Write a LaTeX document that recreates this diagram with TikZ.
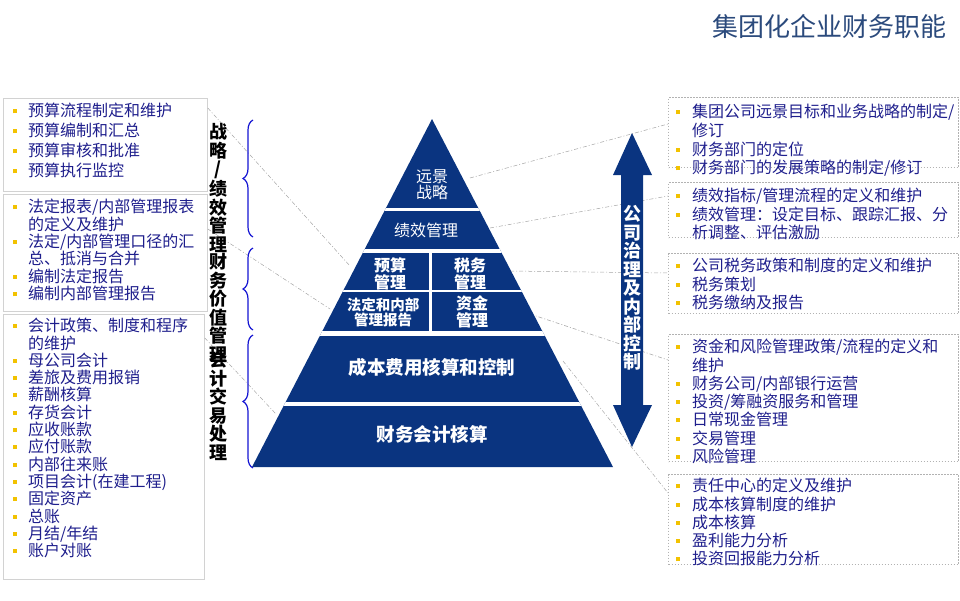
\documentclass[tikz,border=0pt]{standalone}
\usepackage{fontspec}
\setmainfont{Noto Sans CJK SC}
\usepackage{xcolor}
\usepackage{tikz}
\usetikzlibrary{calc,decorations.pathreplacing}

\definecolor{pyrblue}{HTML}{0A3480}
\definecolor{itemblue}{HTML}{1E1E8C}
\definecolor{bulletyellow}{HTML}{F2C200}
\definecolor{titleblue}{HTML}{2B4A7C}
\definecolor{braceblue}{HTML}{1414D2}

% gelbe Aufzählungspunkte
\newcommand{\lbul}{\llap{\textcolor{bulletyellow}{\rule[3.5pt]{4pt}{4pt}}\hspace{11pt}}}
\newcommand{\rbul}{\llap{\textcolor{bulletyellow}{\rule[3.5pt]{4pt}{4pt}}\hspace{12pt}}}

\tikzset{
  leftbox/.style={draw=gray!35, line width=0.8pt, anchor=north west, inner sep=0pt},
  rightbox/.style={draw=gray!60, line width=1.4pt, dash pattern=on 1.4pt off 1.6pt, anchor=north west, inner sep=0pt},
  itemlist/.style={anchor=north west, inner sep=0pt, align=left, text=itemblue},
  pyrtext/.style={text=white, align=center, inner sep=0pt},
  sidelabel/.style={align=center, inner sep=0pt, font=\fontsize{18}{18.5}\selectfont\bfseries},
  guide/.style={gray!70, line width=0.5pt, dash pattern=on 4pt off 2pt on 1pt off 2pt},
  sidebrace/.style={braceblue, line width=1.2pt, decorate, decoration={brace, amplitude=10pt}},
  gap/.style={white, line width=#1},
}

\begin{document}
\begin{tikzpicture}[x=1pt,y=-1pt]
  \useasboundingbox (0,0) rectangle (960,600);

  % Titel
  \node[text=titleblue, font=\fontsize{26}{26}\selectfont, anchor=east] (title) at (950,27) {集团化企业财务职能};

  % linke Kästen
  \node[leftbox, minimum width=204pt, minimum height=93pt] (lb1) at (3,98) {};
  \node[leftbox, minimum width=204pt, minimum height=117pt] (lb2) at (3,194) {};
  \node[leftbox, minimum width=201pt, minimum height=265pt] (lb3) at (3,314) {};

  \node[itemlist, font=\fontsize{16}{20}\selectfont] (lt1) at (28,103)
    {\lbul 预算流程制定和维护\\ \lbul 预算编制和汇总\\ \lbul 预算审核和批准\\ \lbul 预算执行监控};
  \node[itemlist, font=\fontsize{16}{17.4}\selectfont] (lt2) at (28,199)
    {\lbul 法定报表/内部管理报表\\ 的定义及维护\\ \lbul 法定/内部管理口径的汇\\ 总、抵消与合并\\
     \lbul 编制法定报告\\ \lbul 编制内部管理报告};
  \node[itemlist, font=\fontsize{16}{17.3}\selectfont] (lt3) at (28,318)
    {\lbul 会计政策、制度和程序\\ 的维护\\ \lbul 母公司会计\\ \lbul 差旅及费用报销\\ \lbul 薪酬核算\\
     \lbul 存货会计\\ \lbul 应收账款\\ \lbul 应付账款\\ \lbul 内部往来账\\ \lbul 项目会计(在建工程)\\
     \lbul 固定资产\\ \lbul 总账\\ \lbul 月结/年结\\ \lbul 账户对账};

  % rechte Kästen
  \node[rightbox, minimum width=290pt, minimum height=70pt] (rb1) at (668,97) {};
  \node[rightbox, minimum width=290pt, minimum height=55pt] (rb2) at (668,182) {};
  \node[rightbox, minimum width=290pt, minimum height=60pt] (rb3) at (668,253) {};
  \node[rightbox, minimum width=290pt, minimum height=127pt] (rb4) at (668,334) {};
  \node[rightbox, minimum width=290pt, minimum height=90pt] (rb5) at (668,474) {};

  \node[itemlist, font=\fontsize{16}{18.7}\selectfont] (rt1) at (692,104)
    {\rbul 集团公司远景目标和业务战略的制定/\\ 修订\\ \rbul 财务部门的定位\\ \rbul 财务部门的发展策略的制定/修订};
  \node[itemlist, font=\fontsize{16}{18.5}\selectfont] (rt2) at (692,188)
    {\rbul 绩效指标/管理流程的定义和维护\\ \rbul 绩效管理：设定目标、跟踪汇报、分\\ 析调整、评估激励};
  \node[itemlist, font=\fontsize{16}{18.5}\selectfont] (rt3) at (692,258)
    {\rbul 公司税务政策和制度的定义和维护\\ \rbul 税务策划\\ \rbul 税务缴纳及报告};
  \node[itemlist, font=\fontsize{16}{18.3}\selectfont] (rt4) at (692,339)
    {\rbul 资金和风险管理政策/流程的定义和\\ 维护\\ \rbul 财务公司/内部银行运营\\ \rbul 投资/筹融资服务和管理\\
     \rbul 日常现金管理\\ \rbul 交易管理\\ \rbul 风险管理};
  \node[itemlist, font=\fontsize{16}{18.25}\selectfont] (rt5) at (692,478)
    {\rbul 责任中心的定义及维护\\ \rbul 成本核算制度的维护\\ \rbul 成本核算\\ \rbul 盈利能力分析\\ \rbul 投资回报能力分析};

  % Anschlusspunkte an der Pyramide
  \coordinate (cBudget) at (350,266);
  \coordinate (cReport) at (330,309);
  \coordinate (cAcct)   at (276,414);
  \coordinate (cVision) at (470,178);
  \coordinate (cPerf)   at (490,228);
  \coordinate (cTax)    at (510,271);
  \coordinate (cFund)   at (530,314);
  \coordinate (cCost)   at (563,361);

  % Hilfslinien
  \draw[guide] (lb1.east |- 0,108) -- (cBudget);
  \draw[guide] (lb2.east |- 0,229) -- (cReport);
  \draw[guide] (lb3.east |- 0,338) -- (cAcct);
  \draw[guide] (cVision) -- (rb1.west |- 0,124);
  \draw[guide] (cPerf) -- (rb2.west |- 0,196);
  \draw[guide] (cTax) -- (rb3.west |- 0,273);
  \draw[guide] (cFund) -- (rb4.west |- 0,360);
  \draw[guide] (cCost) -- (rb5.west |- 0,493);

  % Pyramide
  \fill[pyrblue] (432,119) -- (252,467) -- (613,467) -- cycle;
  \begin{scope}
    \clip (432,119) -- (252,467) -- (613,467) -- cycle;
    \foreach \y/\w in {209/3pt,250.5/4pt,291/2pt,333.5/5pt,403.7/4pt}
      \draw[gap=\w] (240,\y) -- (630,\y);
    \draw[gap=2.5pt] (430.5,250) -- (430.5,334);
  \end{scope}

  \node[pyrtext, font=\fontsize{16}{14}\selectfont] (pyrVision) at (432,185) {远景\\战略};
  \node[pyrtext, font=\fontsize{16}{16}\selectfont] (pyrPerf) at (426,230) {绩效管理};
  \node[pyrtext, font=\fontsize{16}{15}\selectfont\bfseries] (pyrBudget) at (390,274) {预算\\管理};
  \node[pyrtext, font=\fontsize{16}{15}\selectfont\bfseries] (pyrTax) at (470,274) {税务\\管理};
  \node[pyrtext, font=\fontsize{14.5}{13}\selectfont\bfseries] (pyrReport) at (383,312) {法定和内部\\管理报告};
  \node[pyrtext, font=\fontsize{16}{15}\selectfont\bfseries] (pyrFund) at (472,312) {资金\\管理};
  \node[pyrtext, font=\fontsize{18.5}{18.5}\selectfont\bfseries] (pyrCost) at (432,367) {成本费用核算和控制};
  \node[pyrtext, font=\fontsize{18.5}{18.5}\selectfont\bfseries] (pyrAcct) at (432,434) {财务会计核算};

  % Klammern und senkrechte Beschriftung links
  \draw[sidebrace] (253,237) -- (253,120);
  \draw[sidebrace] (253,330) -- (253,248);
  \draw[sidebrace] (253,468) -- (253,335);

  \node[sidelabel] (lblStrategy) at (218,188) {战\\略\\/\\绩\\效\\管\\理};
  \node[sidelabel] (lblValue) at (218,308) {财\\务\\价\\值\\管\\理};
  \node[sidelabel] (lblTrans) at (218,406) {会\\计\\交\\易\\处\\理};

  % Doppelpfeil rechts
  \fill[pyrblue] (632,133) -- (652,175) -- (643,175) -- (643,405) -- (652,405) -- (632,447)
    -- (613,405) -- (621,405) -- (621,175) -- (613,175) -- cycle;
  \node[pyrtext, font=\fontsize{18}{18.5}\selectfont\bfseries] (ctrlText) at (632,288)
    {公\\司\\治\\理\\及\\内\\部\\控\\制};
\end{tikzpicture}
\end{document}
